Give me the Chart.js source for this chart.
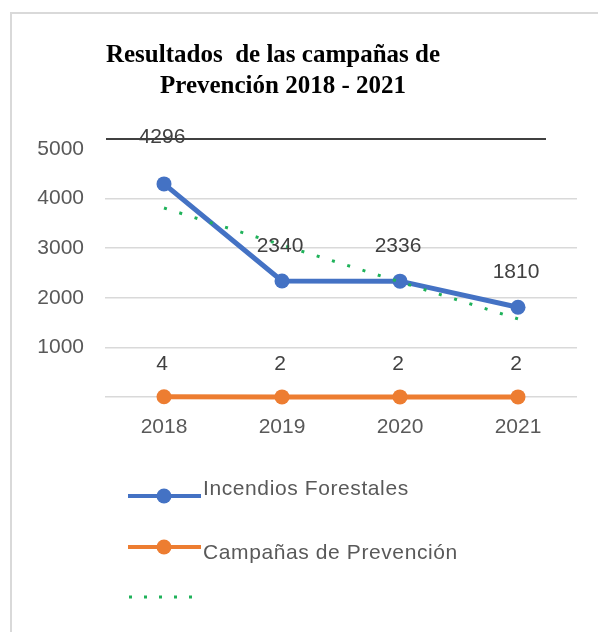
<!DOCTYPE html>
<html>
<head>
<meta charset="utf-8">
<script src="https://cdn.jsdelivr.net/npm/chart.js@4.4.1/dist/chart.umd.min.js"></script>
<style>
  html, body { margin: 0; padding: 0; background: #fff; overflow: hidden; }
  #frame { position: absolute; left: 10px; top: 12px; width: 640px; height: 660px; border: 2px solid #d9d9d9; }
  #wrap { position: absolute; left: 0; top: 0; width: 598px; height: 632px; }
</style>
</head>
<body>
<div id="frame"></div>
<div id="wrap"><canvas id="chart" width="598" height="632"></canvas></div>
<script>
// data
const years = ['2018', '2019', '2020', '2021'];
const incendios = [4296, 2340, 2336, 1810];
const campanas = [4, 2, 2, 2];
const tendencia = [3810, 3065, 2320, 1575];   // lineal trend of incendios
const yTicks = [0, 1000, 2000, 3000, 4000, 5000];
const yTickLabels = ['', '1000', '2000', '3000', '4000', '5000'];
const seriesNames = ['Incendios Forestales', 'Campañas de Prevención', ''];
const titleLines = ['Resultados  de las campañas de', 'Prevención 2018 - 2021'];

const BLUE = '#4472c4';
const ORANGE = '#ed7d31';
const GREEN = '#1fb25a';
const TXT = '#595959';
const SANS = '"Liberation Sans", Arial, sans-serif';

// title, drawn by hand so it can sit off-centre like the original
const titlePlugin = {
  id: 'titleText',
  afterDraw(chart) {
    const c = chart.ctx;
    c.save();
    c.fillStyle = '#000';
    c.font = 'bold 25px "Liberation Serif", "Times New Roman", serif';
    c.textAlign = 'center';
    c.textBaseline = 'alphabetic';
    c.fillText(titleLines[0], 273, 62);
    c.fillText(titleLines[1], 283, 93);
    c.restore();
  }
};

// stray dark rule above the plot + value labels
const labelsPlugin = {
  id: 'valueLabels',
  afterDatasetsDraw(chart) {
    const c = chart.ctx;
    const area = chart.chartArea;
    const xs = chart.scales.x;
    c.save();
    c.strokeStyle = '#404040';
    c.lineWidth = 2;
    c.beginPath();
    c.moveTo(area.left + 1, area.top - 10);
    c.lineTo(xs.getPixelForValue(3) + 28, area.top - 10);
    c.stroke();

    c.font = '21px ' + SANS;
    c.fillStyle = '#404040';
    c.textAlign = 'center';
    c.textBaseline = 'middle';
    const offsets = [[47, 35, 35, 35], [33, 33, 33, 33]];
    [0, 1].forEach(di => {
      const meta = chart.getDatasetMeta(di);
      const vals = chart.data.datasets[di].data;
      meta.data.forEach((pt, i) => {
        c.fillText(String(vals[i]), pt.x - 2, pt.y - offsets[di][i]);
      });
    });
    c.restore();
  }
};

// vertical legend under the axis
const legendPlugin = {
  id: 'stackLegend',
  afterDraw(chart) {
    const c = chart.ctx;
    const bottom = chart.chartArea.bottom;
    const rows = [
      { line: bottom + 99, text: bottom + 98 },
      { line: bottom + 150, text: bottom + 162 },
      { line: bottom + 200, text: bottom + 200 }
    ];
    c.save();
    c.font = '21px ' + SANS;
    c.fillStyle = TXT;
    c.textAlign = 'left';
    c.textBaseline = 'alphabetic';
    if ('letterSpacing' in c) c.letterSpacing = '0.6px';
    chart.data.datasets.forEach((ds, i) => {
      const r = rows[i];
      c.strokeStyle = ds.borderColor;
      if (ds.borderDash && ds.borderDash.length) {
        c.setLineDash([3, 12]);
        c.lineWidth = 3;
        c.beginPath();
        c.moveTo(129, r.line);
        c.lineTo(203, r.line);
        c.stroke();
        c.setLineDash([]);
      } else {
        c.lineWidth = 4;
        c.beginPath();
        c.moveTo(128, r.line);
        c.lineTo(201, r.line);
        c.stroke();
        c.fillStyle = ds.borderColor;
        c.beginPath();
        c.arc(164, r.line, 7.5, 0, Math.PI * 2);
        c.fill();
      }
      c.fillStyle = TXT;
      if (seriesNames[i]) c.fillText(seriesNames[i], 203, r.text);
    });
    c.restore();
  }
};

new Chart(document.getElementById('chart'), {
  type: 'line',
  data: {
    labels: years,
    datasets: [
      {
        label: seriesNames[0],
        data: incendios,
        borderColor: BLUE,
        backgroundColor: BLUE,
        borderWidth: 5,
        pointRadius: 7.5,
        pointHoverRadius: 7.5,
        pointBorderWidth: 0,
        tension: 0,
        clip: false,
        order: 1
      },
      {
        label: seriesNames[1],
        data: campanas,
        borderColor: ORANGE,
        backgroundColor: ORANGE,
        borderWidth: 5,
        pointRadius: 7.5,
        pointHoverRadius: 7.5,
        pointBorderWidth: 0,
        tension: 0,
        clip: false,
        order: 2
      },
      {
        label: seriesNames[2],
        data: tendencia,
        borderColor: GREEN,
        borderWidth: 3,
        borderDash: [3, 13],
        borderCapStyle: 'butt',
        pointRadius: 0,
        fill: false,
        tension: 0,
        clip: false,
        order: 0
      }
    ]
  },
  options: {
    responsive: false,
    animation: false,
    layout: { padding: { top: 149, right: 21, left: 0, bottom: 0 } },
    plugins: {
      legend: { display: false },
      title: { display: false },
      tooltip: { enabled: false }
    },
    scales: {
      x: {
        offset: true,
        afterFit: s => { s.height = 235; },
        grid: { display: false, drawTicks: false },
        border: { display: false },
        ticks: { padding: 18, color: TXT, font: { family: SANS, size: 21 } }
      },
      y: {
        min: 0,
        max: 5000,
        afterFit: s => { s.width = 105; },
        afterBuildTicks: s => { s.ticks = yTicks.map(v => ({ value: v })); },
        border: { display: false },
        grid: {
          drawTicks: false,
          lineWidth: 1.5,
          color: ctx => (ctx.tick && ctx.tick.value === 5000) ? 'rgba(0,0,0,0)' : '#d9d9d9'
        },
        ticks: {
          padding: 21,
          color: TXT,
          font: { family: SANS, size: 21 },
          callback: (v, i) => yTickLabels[i]
        }
      }
    }
  },
  plugins: [titlePlugin, labelsPlugin, legendPlugin]
});
</script>
</body>
</html>
